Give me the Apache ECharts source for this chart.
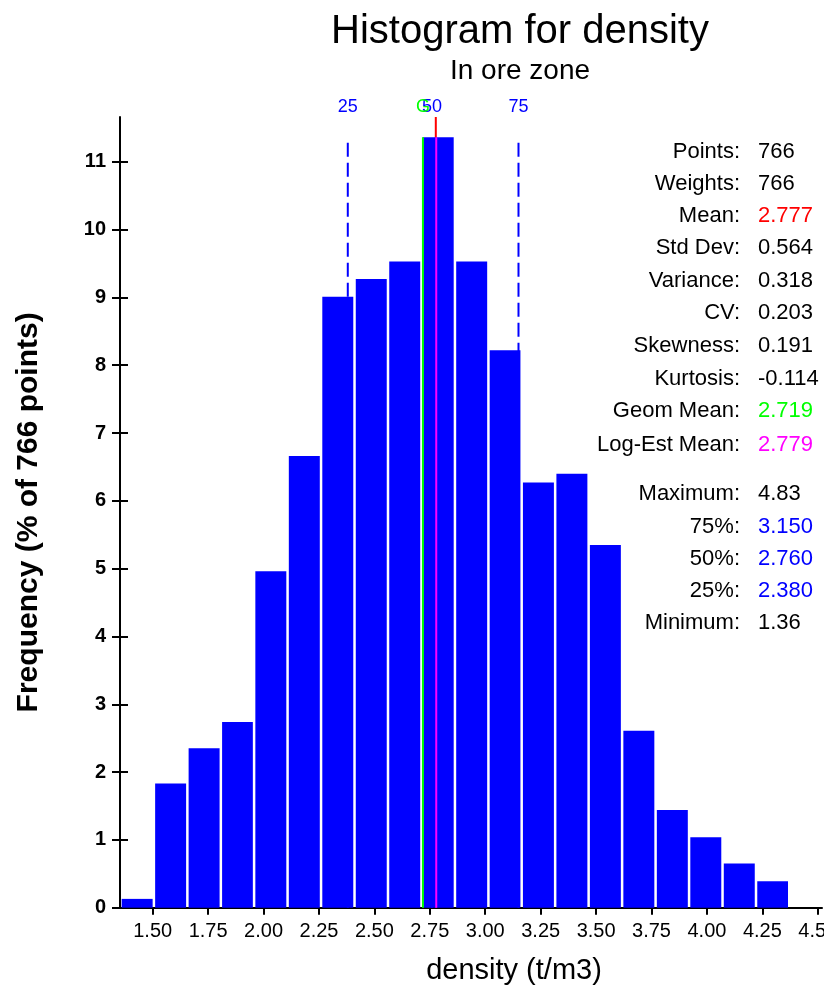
<!DOCTYPE html>
<html><head><meta charset="utf-8">
<script src="https://cdn.jsdelivr.net/npm/echarts@6/dist/echarts.min.js"></script>
<style>html,body{margin:0;padding:0;background:#fff}#c{width:824px;height:987px}</style>
</head><body><div id="c"></div>
<script>
// ---- data ----
const binEdges = [1.360,1.511,1.662,1.813,1.963,2.114,2.265,2.416,2.567,2.718,2.869,3.020,3.170,3.321,3.472,3.623,3.774,3.925,4.076,4.227,4.377];
const frequency = [0.13,1.83,2.35,2.74,4.96,6.66,9.01,9.27,9.53,11.36,9.53,8.22,6.27,6.40,5.35,2.61,1.44,1.04,0.65,0.39];
const xTickValues = [1.50,1.75,2.00,2.25,2.50,2.75,3.00,3.25,3.50,3.75,4.00,4.25,4.50];
const yTickValues = [0,1,2,3,4,5,6,7,8,9,10,11];
const percentileNames = ['25','50','75'];
const percentileValues = [2.380,2.760,3.150];
const meanValue = 2.777;
const geomMeanValue = 2.719;
const logEstMeanValue = 2.779;
const statLabels = ['Points:','Weights:','Mean:','Std Dev:','Variance:','CV:','Skewness:','Kurtosis:','Geom Mean:','Log-Est Mean:','Maximum:','75%:','50%:','25%:','Minimum:'];
const statValues = ['766','766','2.777','0.564','0.318','0.203','0.191','-0.114','2.719','2.779','4.83','3.150','2.760','2.380','1.36'];

// ---- styles ----
const FONT = '"Liberation Sans", Arial, sans-serif';
const statColors = ['#000','#000','#ff0000','#000','#000','#000','#000','#000','#00ff00','#ff00ff','#000','#0000ff','#0000ff','#0000ff','#000'];
const statRowY = [152,184,216,248,281,313,346,379,411,445,494,527,559,591,623];
const X_MIN = 1.3525, X_MAX = 4.519, Y_MAX = 11.66, PCT_TOP = 11.28, GEO_TOP = 11.36;

const barData = frequency.map((v,i)=>[binEdges[i], binEdges[i+1], v]);

const chart = echarts.init(document.getElementById('c'), null, {renderer:'canvas'});

const graphics = [];
statLabels.forEach((t,i)=>{
  graphics.push({type:'text', x:740, y:statRowY[i], style:{text:t, font:'22px '+FONT, fill:'#000', align:'right', verticalAlign:'middle'}});
  graphics.push({type:'text', x:758, y:statRowY[i], style:{text:statValues[i], font:'22px '+FONT, fill:statColors[i], align:'left', verticalAlign:'middle'}});
});

function vLine(color, width, dash){
  return function(params, api){
    const top = api.coord([api.value(0), api.value(1)]);
    const bot = api.coord([api.value(0), 0]);
    return {type:'line', shape:{x1:top[0], y1:top[1], x2:bot[0], y2:bot[1]},
      style:{stroke:color, lineWidth:width, lineDash:dash||null}};
  };
}

const option = {
  animation:false,
  backgroundColor:'#fff',
  title:[
    {text:'Histogram for density', left:515, top:7, textAlign:'center',
     textStyle:{fontFamily:FONT, fontSize:40, fontWeight:'normal', color:'#000'}},
    {text:'In ore zone', left:515, top:52, textAlign:'center',
     textStyle:{fontFamily:FONT, fontSize:28, fontWeight:'normal', color:'#000'}}
  ],
  grid:{left:120, right:2, top:117, bottom:79.3, containLabel:false, outerBoundsMode:'none'},
  xAxis:{
    type:'value', min:X_MIN, max:X_MAX,
    name:'density (t/m3)', nameLocation:'middle', nameGap:49,
    nameTextStyle:{fontFamily:FONT, fontSize:29, color:'#000', padding:[0,0,0,86]},
    axisLine:{show:true, onZero:false, lineStyle:{color:'#000', width:2}},
    axisTick:{show:true, length:7, customValues:xTickValues, lineStyle:{color:'#000', width:2}},
    axisLabel:{customValues:xTickValues, margin:14, fontFamily:FONT, fontSize:20, color:'#000',
      formatter:v=>v.toFixed(2)},
    splitLine:{show:false}
  },
  yAxis:[{
    type:'value', min:0, max:Y_MAX,
    name:'Frequency (% of 766 points)', nameLocation:'middle', nameGap:76,
    nameTextStyle:{fontFamily:FONT, fontSize:30, fontWeight:'bold', color:'#000'},
    axisLine:{show:true, lineStyle:{color:'#000', width:2}},
    axisTick:{show:true, length:8, customValues:yTickValues, lineStyle:{color:'#000', width:2}},
    axisLabel:{customValues:yTickValues, margin:14, fontFamily:FONT, fontSize:20, fontWeight:'bold', color:'#000'},
    splitLine:{show:false}
  },{
    type:'value', min:0, max:Y_MAX, position:'left',
    axisLine:{show:false},
    axisTick:{show:true, inside:true, length:8, customValues:yTickValues, lineStyle:{color:'#000', width:2}},
    axisLabel:{show:false}, splitLine:{show:false}
  }],
  graphic: graphics,
  series:[
    { // percentile dashed lines + labels (behind bars)
      type:'custom', name:'percentiles', z:1,
      data: percentileValues.map((v,i)=>[v, PCT_TOP]),
      encode:{x:0, y:1},
      renderItem:function(params, api){
        const top = api.coord([api.value(0), api.value(1)]);
        const bot = api.coord([api.value(0), 0]);
        const lab = api.coord([api.value(0), Y_MAX]);
        return {type:'group', children:[
          {type:'line', shape:{x1:top[0], y1:top[1], x2:bot[0], y2:bot[1]},
           style:{stroke:'#0000ff', lineWidth:2, lineDash:[14,6]}},
          {type:'text', x:lab[0], y:lab[1]-10, style:{text:percentileNames[params.dataIndex],
            font:'18px '+FONT, fill:'#0000ff', align:'center', verticalAlign:'middle'}, z2:10}
        ]};
      }
    },
    { // mean line (behind bars)
      type:'custom', name:'mean', z:1,
      data:[[meanValue, Y_MAX]], encode:{x:0, y:1},
      renderItem: vLine('#ff0000', 2)
    },
    { // histogram bars
      type:'custom', name:'frequency', z:2,
      data: barData, encode:{x:[0,1], y:2},
      renderItem:function(params, api){
        const p0 = api.coord([api.value(0), api.value(2)]);
        const p1 = api.coord([api.value(1), 0]);
        return {type:'rect', shape:{x:p0[0], y:p0[1], width:p1[0]-p0[0]-2.5, height:p1[1]-p0[1]},
          style:{fill:'#0000ff'}};
      }
    },
    { // geometric mean line (over bars)
      type:'custom', name:'geomMean', z:3,
      data:[[geomMeanValue, GEO_TOP]], encode:{x:0, y:1},
      renderItem:function(params, api){
        const top = api.coord([api.value(0), api.value(1)]);
        const bot = api.coord([api.value(0), 0]);
        const lab = api.coord([api.value(0), Y_MAX]);
        return {type:'group', children:[
          {type:'line', shape:{x1:top[0], y1:top[1], x2:bot[0], y2:bot[1]}, style:{stroke:'#00ff00', lineWidth:2}},
          {type:'text', x:lab[0], y:lab[1]-10, z2:-1, style:{text:'G', font:'18px '+FONT, fill:'#00ff00', align:'center', verticalAlign:'middle'}}
        ]};
      }
    },
    { // log-estimated mean line (over bars)
      type:'custom', name:'logEstMean', z:3,
      data:[[logEstMeanValue, GEO_TOP]], encode:{x:0, y:1},
      renderItem: vLine('#ff00ff', 2)
    }
  ]
};
chart.setOption(option);
</script>
</body></html>
